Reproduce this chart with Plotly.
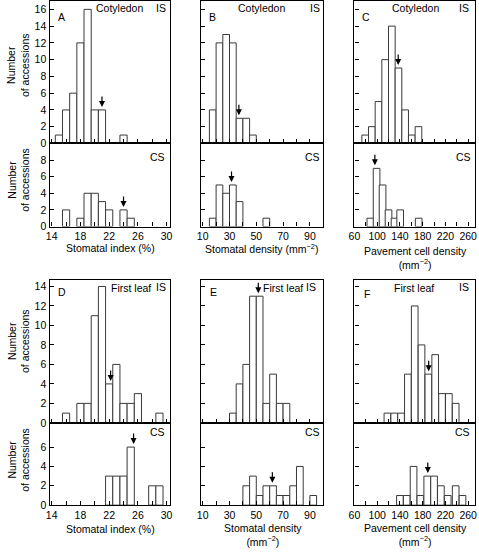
import plotly.graph_objects as go

W, H = 479, 554

# ---------------- data (bin centres and counts) ----------------
# A: stomatal index, cotyledon
a_is_x = [15, 16, 17, 18, 19, 20, 21, 24]
a_is_n = [1, 4, 6, 12, 16, 4, 4, 1]
a_cs_x = [16, 18, 19, 20, 21, 22, 24, 25]
a_cs_n = [2, 1, 4, 4, 3, 2, 2, 1]
# B: stomatal density, cotyledon
b_is_x = [17.5, 22.5, 27.5, 32.5, 37.5, 42.5, 47.5]
b_is_n = [4, 12, 13, 12, 3, 3, 1]
b_cs_x = [17.5, 22.5, 27.5, 32.5, 37.5, 57.5]
b_cs_n = [1, 5, 4, 5, 3, 1]
# C: pavement cell density, cotyledon
c_is_x = [79, 90.7, 102.4, 114.1, 125.8, 137.5, 149.2, 160.9, 172.6]
c_is_n = [1, 2, 5, 10, 14, 9, 4, 1, 2]
c_cs_x = [88, 99, 109.5, 120, 130.5, 140.5, 173]
c_cs_n = [1, 7, 5, 2, 1, 2, 1]
# D: stomatal index, first leaf
d_is_x = [16, 18, 19, 20, 21, 22, 23, 24, 25, 26, 29]
d_is_n = [1, 2, 2, 11, 14, 4, 6, 2, 2, 3, 1]
d_cs_x = [22, 23, 24, 25, 28, 29]
d_cs_n = [3, 3, 3, 6, 2, 2]
# E: stomatal density, first leaf
e_is_x = [32.5, 37.5, 42.5, 47.5, 52.5, 57.5, 62.5, 67.5, 72.5]
e_is_n = [1, 4, 6, 13, 13, 2, 5, 2, 2]
e_cs_x = [42.5, 47.5, 52.5, 57.5, 62.5, 67.5, 72.5, 77.5, 82.5, 92.5]
e_cs_n = [2, 3, 1, 2, 2, 1, 1, 2, 4, 1]
# F: pavement cell density, first leaf
f_is_x = [118, 130, 142, 154, 166, 178, 190, 202, 214, 226, 238]
f_is_n = [1, 1, 1, 5, 12, 8, 5, 7, 3, 3, 2]
f_cs_x = [140, 152, 164, 176, 188, 200, 212, 224, 238, 250]
f_cs_n = [1, 1, 4, 1, 3, 3, 2, 1, 2, 1]

# arrow positions (x value, count of bar beneath)
arrow_x = [21, 37, 137, 24, 31.5, 96, 22.2, 51.5, 190.5, 25.4, 62, 189]
arrow_n = [4, 3, 9, 2, 5, 7, 4, 13, 5, 6, 2, 3]

bin_w = [1, 5, 11.7]

x_ranges = [[13.7, 30.5], [8.5, 99.5], [60, 272]]
x_ticks = [list(range(14, 31, 2)), list(range(10, 91, 10)), list(range(60, 261, 20))]
x_labels = [[14, 18, 22, 26, 30], [10, 30, 50, 70, 90], [60, 100, 140, 180, 220, 260]]

y_ranges = [[0, 17], [0, 10], [0, 14.7], [0, 8.5]]
y_ticks = [list(range(0, 17, 2)), list(range(0, 9, 2)), list(range(0, 15, 2)), list(range(0, 7, 2))]

panel_letters = ["A", "B", "C", "D", "E", "F"]
organ = ["Cotyledon", "Cotyledon", "Cotyledon", "First leaf", "First leaf", "First leaf"]
x_titles = ["Stomatal index (%)", "Stomatal density (mm<sup>−2</sup>)",
            "Pavement cell density<br>(mm<sup>−2</sup>)",
            "Stomatal index (%)", "Stomatal density<br>(mm<sup>−2</sup>)",
            "Pavement cell density<br>(mm<sup>−2</sup>)"]

# ---------------- layout geometry (pixels) ----------------
col_px = [(44.3, 167), (198, 322), (354.3, 477)]
row_px = [(1, 145), (145, 229), (282.7, 427.5), (427.5, 510.7)]

FONT = "Liberation Sans, Arial, Helvetica, sans-serif"
FS = 10.5

series = [
    (a_is_x, a_is_n), (b_is_x, b_is_n), (c_is_x, c_is_n),
    (a_cs_x, a_cs_n), (b_cs_x, b_cs_n), (c_cs_x, c_cs_n),
    (d_is_x, d_is_n), (e_is_x, e_is_n), (f_is_x, f_is_n),
    (d_cs_x, d_cs_n), (e_cs_x, e_cs_n), (f_cs_x, f_cs_n),
]

fig = go.Figure()
layout = dict(width=W, height=H, autosize=False,
              margin=dict(l=0, r=0, t=0, b=0),
              paper_bgcolor="white", plot_bgcolor="white",
              showlegend=False, barmode="overlay",
              font=dict(family=FONT, size=FS, color="black"))
annotations = []

for k, (xs, ns) in enumerate(series):
    row, col = divmod(k, 3)
    ax_id = "" if k == 0 else str(k + 1)
    fig.add_trace(go.Bar(
        x=xs, y=ns, width=bin_w[col],
        marker=dict(color="white", line=dict(color="#3a3a3a", width=1)),
        xaxis="x" + ax_id, yaxis="y" + ax_id, hoverinfo="skip"))
    x0, x1 = col_px[col]
    y0, y1 = row_px[row]
    is_bottom = row in (1, 3)
    layout["xaxis" + ax_id] = dict(
        domain=[x0 / W, x1 / W], range=x_ranges[col], anchor="y" + ax_id,
        tickmode="array", tickvals=x_ticks[col],
        ticktext=[str(v) if v in x_labels[col] else "" for v in x_ticks[col]],
        showticklabels=is_bottom, ticks="inside", ticklen=4, tickwidth=1,
        tickcolor="black", showline=True, mirror=True, linecolor="black",
        linewidth=1.3, showgrid=False, zeroline=False,
        tickfont=dict(size=FS, family=FONT, color="black"), fixedrange=True)
    layout["yaxis" + ax_id] = dict(
        domain=[1 - y1 / H, 1 - y0 / H], range=y_ranges[row], anchor="x" + ax_id,
        tickmode="array", tickvals=y_ticks[row],
        showticklabels=(col == 0), ticks="inside", ticklen=4, tickwidth=1,
        tickcolor="black", showline=True, mirror=True, linecolor="black",
        linewidth=1.3, showgrid=False, zeroline=False,
        tickfont=dict(size=FS, family=FONT, color="black"), fixedrange=True)
    # arrow
    annotations.append(dict(
        x=arrow_x[k], y=arrow_n[k], xref="x" + ax_id, yref="y" + ax_id,
        text="", showarrow=True, ax=0, ay=-15, arrowhead=2, arrowsize=1,
        arrowwidth=1.2, arrowcolor="black", standoff=3))


def ptext(txt, px, py, size=FS, **kw):
    d = dict(text=txt, x=px / W, y=1 - py / H, xref="paper", yref="paper",
             showarrow=False, xanchor="center", yanchor="middle",
             font=dict(size=size, family=FONT, color="black"))
    d.update(kw)
    annotations.append(d)


letter_pos = [(56, 17), (210.5, 17), (366, 17), (56.5, 295), (211.5, 295), (367.5, 297)]
organ_pos = [(115, 8), (260, 8), (416, 8), (127.5, 291), (282, 291), (414.5, 291)]
is_pos = [(158, 8), (314, 8), (466, 8), (158, 290), (310, 290), (466, 290)]
cs_pos = [(154, 158.5), (311.5, 158.5), (465, 158.5), (154, 436.5), (311.5, 436.5), (464.5, 436.5)]
xt_pos = [(106, 251), (260, 251), (416, 261), (106, 535), (261, 541), (416, 541)]

for i in range(6):
    ptext(panel_letters[i], *letter_pos[i])
    ptext(organ[i], *organ_pos[i])
    ptext("IS", *is_pos[i])
    ptext("CS", *cs_pos[i])
    ptext(x_titles[i], *xt_pos[i])

for yc in [66, 182, 345, 465]:
    ptext("Number<br>of accessions", 13, yc, textangle=-90)

layout["annotations"] = annotations
fig.update_layout(**layout)
fig.write_html("out.html", config={"displayModeBar": False},
               post_script="document.body.style.margin='0';document.body.style.padding='0';document.body.style.overflow='hidden';")
